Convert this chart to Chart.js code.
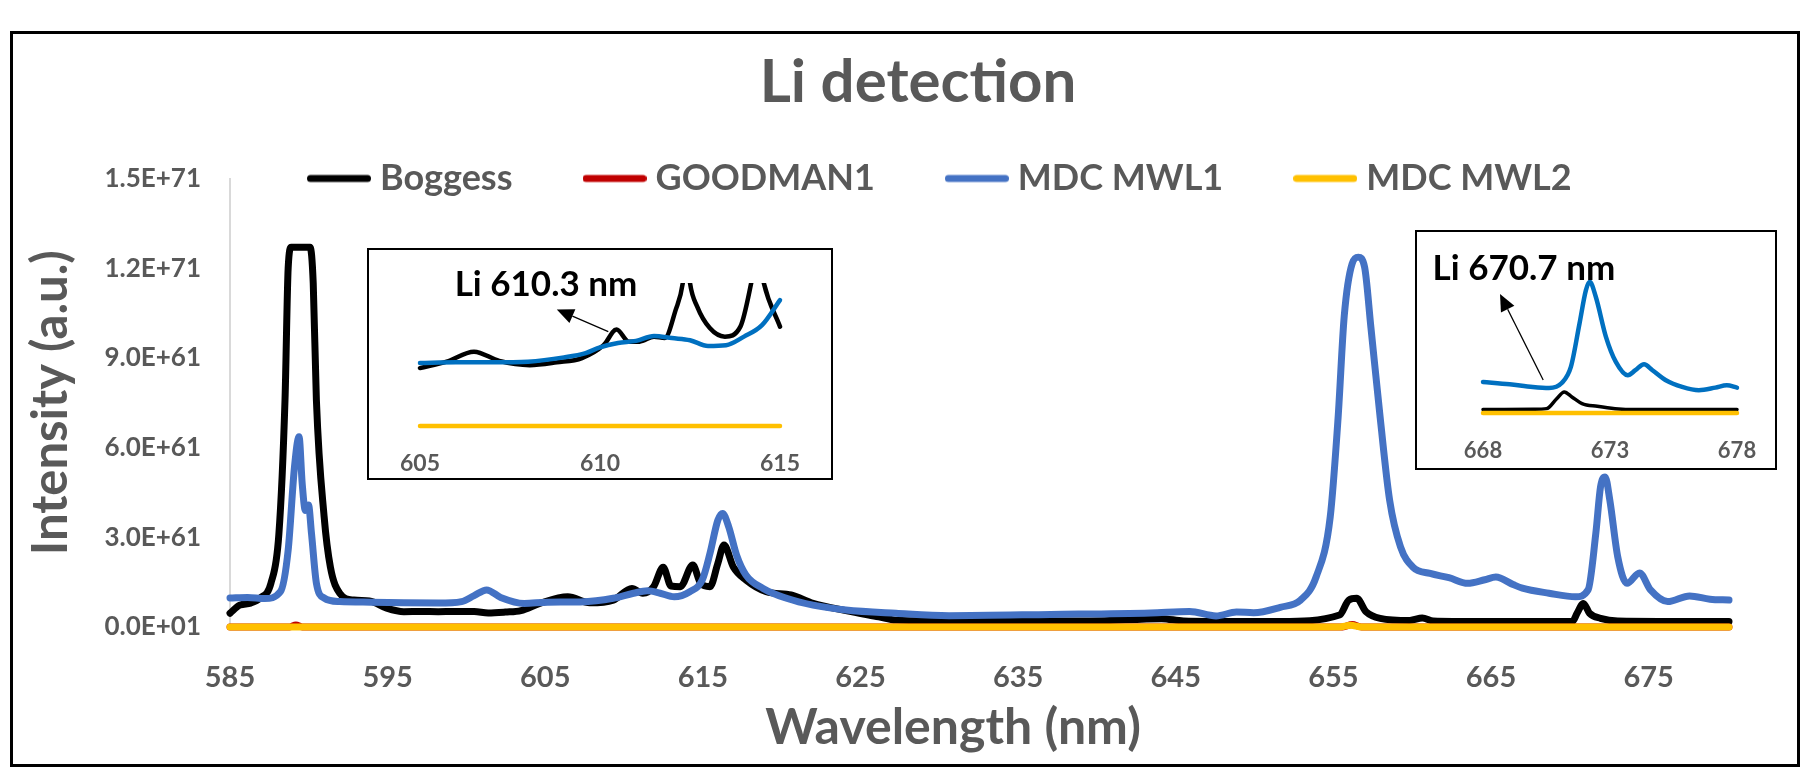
<!DOCTYPE html>
<html>
<head>
<meta charset="utf-8">
<script src="https://cdn.jsdelivr.net/npm/chart.js@4.4.1/dist/chart.umd.min.js"></script>
<style>
html,body{margin:0;padding:0;background:#fff;}
#wrap{position:relative;width:1806px;height:778px;overflow:hidden;}
#main{position:absolute;left:0;top:0;display:block;}
.inset{position:absolute;box-sizing:border-box;border:2px solid #000;background:#fff;}
.inset canvas{display:block;}
</style>
</head>
<body>
<div id="wrap">
  <canvas id="main" width="1806" height="778"></canvas>
  <div class="inset" style="left:367px;top:248px;width:466px;height:232px;"><canvas id="inset1" width="462" height="228"></canvas></div>
  <div class="inset" style="left:1415px;top:230px;width:362px;height:240px;"><canvas id="inset2" width="358" height="236"></canvas></div>
</div>
<script>
// ---------------- DATA ----------------
const seriesNames = ['Boggess', 'GOODMAN1', 'MDC MWL1', 'MDC MWL2'];

const boggessX = [585.0,585.62,586.31,586.91,587.6,588.1,588.49,588.69,588.89,590.08,590.28,590.48,590.97,591.37,591.96,592.85,593.85,594.94,596.03,597.12,598.21,599.2,600.49,601.38,602.47,603.46,604.65,606.43,607.82,609.31,610.5,611.19,611.88,612.48,612.98,613.57,614.36,614.86,615.45,615.95,616.34,616.94,617.73,619.02,620.6,621.99,624.07,626.16,627.25,629.63,634.58,639.54,644.1,645.48,649.45,651.63,655.39,655.98,656.48,657.07,657.97,659.85,660.64,661.34,664.31,670.16,670.46,670.86,671.25,671.95,673.04,680.1];
const boggessY = [0.046,0.073,0.080,0.097,0.147,0.31,0.76,1.20,1.27,1.27,1.15,0.76,0.37,0.20,0.113,0.090,0.087,0.063,0.051,0.052,0.051,0.052,0.052,0.047,0.050,0.055,0.079,0.101,0.081,0.090,0.129,0.113,0.135,0.200,0.137,0.135,0.207,0.146,0.135,0.213,0.274,0.200,0.157,0.118,0.107,0.079,0.055,0.034,0.023,0.021,0.020,0.020,0.028,0.020,0.018,0.018,0.040,0.090,0.096,0.051,0.029,0.022,0.030,0.020,0.018,0.018,0.046,0.079,0.046,0.029,0.020,0.018];

const goodmanX = [585.0,588.79,589.18,589.58,655.59,656.19,656.78,680.1];
const goodmanY = [0,0,0.007,0,0,0.008,0,0];

const mwl1X = [585.0,586.12,587.2,588.2,588.69,589.09,589.38,589.58,589.78,589.98,590.17,590.48,590.97,591.96,593.95,596.03,598.21,599.69,600.49,601.28,602.17,603.66,605.15,607.23,609.31,610.6,611.49,612.29,613.18,614.17,614.96,615.45,615.95,616.25,616.64,617.14,617.73,618.82,620.31,621.99,624.07,627.25,630.62,637.06,643.4,645.88,647.56,648.85,649.94,651.63,652.92,653.91,654.8,655.3,655.69,656.19,656.58,656.98,657.38,657.97,658.57,659.26,660.05,661.14,662.33,663.52,664.61,665.31,666.4,666.99,668.68,670.37,671.16,671.65,671.95,672.24,672.54,673.04,673.63,674.42,675.12,676.21,677.6,678.89,680.1];
const mwl1Y = [0.097,0.099,0.095,0.118,0.257,0.535,0.636,0.48,0.39,0.408,0.313,0.147,0.097,0.085,0.083,0.081,0.080,0.085,0.105,0.124,0.099,0.079,0.083,0.084,0.096,0.113,0.121,0.113,0.101,0.118,0.157,0.246,0.357,0.380,0.335,0.240,0.174,0.129,0.096,0.073,0.057,0.046,0.038,0.042,0.047,0.052,0.037,0.050,0.048,0.066,0.090,0.168,0.368,0.70,1.04,1.215,1.237,1.204,1.003,0.70,0.424,0.268,0.200,0.179,0.165,0.146,0.158,0.167,0.142,0.130,0.113,0.101,0.124,0.313,0.469,0.502,0.424,0.235,0.146,0.181,0.124,0.085,0.104,0.093,0.090];

const mwl2X = [585.0,655.39,656.09,656.78,680.1];
const mwl2Y = [0,0,0.006,0,0];

const xTickValues = [585,595,605,615,625,635,645,655,665,675];
const yTickValues = [0,0.3,0.6,0.9,1.2,1.5];
const yTickLabels = ['0.0E+01','3.0E+61','6.0E+61','9.0E+61','1.2E+71','1.5E+71'];

// inset 1 (605-615 nm)
const inset1BlackX = [605,605.74,606.5,607.2,608.05,608.8,609.5,610.1,610.46,610.8,611.1,611.5,611.8,612.1,612.3,612.4,612.5,612.7,613.05,613.47,613.9,614.2,614.38,614.55,615];
const inset1BlackY = [0.081,0.090,0.104,0.091,0.085,0.089,0.095,0.113,0.135,0.118,0.118,0.125,0.123,0.162,0.2,0.25,0.2,0.167,0.137,0.125,0.139,0.2,0.25,0.2,0.139];
const inset1BlueX = [605,606,607,608,609,609.6,610,610.5,611,611.5,612,612.5,613,613.5,614,614.5,615];
const inset1BlueY = [0.088,0.089,0.089,0.090,0.096,0.102,0.110,0.116,0.119,0.126,0.123,0.120,0.112,0.113,0.125,0.141,0.176];
const inset1YellowX = [605,615];
const inset1YellowY = [0,0];
const inset1Ticks = [605,610,615];

// inset 2 (668-678 nm)
const inset2BlueX = [668,669.05,669.96,670.6,671.1,671.46,671.8,672.05,672.2,672.44,672.84,673.23,673.7,674.0,674.34,674.67,675.2,675.84,676.5,677.15,677.6,678];
const inset2BlueY = [0.228,0.211,0.191,0.184,0.22,0.338,0.657,0.9,0.963,0.853,0.559,0.375,0.277,0.314,0.358,0.314,0.24,0.191,0.167,0.186,0.203,0.186];
const inset2BlackX = [668,670,670.5,670.9,671.2,671.5,671.9,672.5,673.2,674,678];
const inset2BlackY = [0.025,0.028,0.032,0.105,0.154,0.118,0.069,0.049,0.032,0.025,0.025];
const inset2YellowX = [668,678];
const inset2YellowY = [0,0];
const inset2Ticks = [668,673,678];

// ---------------- STYLE ----------------
const C_BLACK = '#000000', C_RED = '#C00000', C_BLUE = '#4472C4', C_YELLOW = '#FFC000', C_INSET_BLUE = '#0070C0';
const seriesColors = [C_BLACK, C_RED, C_BLUE, C_YELLOW];
const GRAY = '#595959';
const FONT = 'Lato';

const pts = (xs, ys) => xs.map((x, i) => ({x: x, y: ys[i]}));

function lineDs(label, xs, ys, color, width, order) {
  return {
    label: label, data: pts(xs, ys), borderColor: color, backgroundColor: color,
    borderWidth: width, pointRadius: 0, pointHoverRadius: 0, fill: false,
    cubicInterpolationMode: 'monotone', borderCapStyle: 'round', borderJoinStyle: 'round',
    clip: 10, order: order
  };
}

// legend symbol: a short thick rounded line
function legendLine(color) {
  const c = document.createElement('canvas');
  c.width = 64; c.height = 10;
  const g = c.getContext('2d');
  g.strokeStyle = color; g.lineWidth = 7; g.lineCap = 'round';
  g.beginPath(); g.moveTo(3.5, 5); g.lineTo(60.5, 5); g.stroke();
  return c;
}
const legendSymbols = seriesColors.map(legendLine);

// fine placement of legend, chart title and x-axis title (layout tweaks only)
const LEGEND_FIRST_X = 316;
const placement = {
  id: 'placement',
  afterLayout(chart) {
    const lg = chart.legend;
    if (lg) {
      const o = lg.options.labels;
      const size = o.font && o.font.size ? o.font.size : 12;
      const itemH = size;
      const newTop = chart.chartArea.top - o.padding - itemH / 2;
      lg.top = newTop;
      lg.bottom = newTop + o.padding + itemH + 10;
      lg.height = lg.bottom - lg.top;
      const w = lg.right - lg.left;
      const W = (lg.lineWidths && lg.lineWidths[0]) || 0;
      const L = LEGEND_FIRST_X - (o.padding + w - W) / 2;
      lg.left = L; lg.right = L + w;
    }
    const tb = chart.titleBlock;
    if (tb) {
      const dx = 918 - (tb.left + tb.right) / 2;
      tb.left += dx; tb.right += dx;
    }
    const sx = chart.scales.x;
    if (sx && !sx._titleShifted) {
      const orig = sx.drawTitle.bind(sx);
      sx.drawTitle = function () {
        const r = this.right;
        this.right = 2 * 953 - this.left;
        orig();
        this.right = r;
      };
      sx._titleShifted = true;
    }
  }
};

const framePlugin = {
  id: 'frame',
  afterDraw(chart) {
    const c = chart.ctx;
    c.save();
    c.strokeStyle = '#000';
    c.lineWidth = 3;
    c.strokeRect(11.5, 32.5, 1787, 733);
    c.restore();
  }
};

new Chart(document.getElementById('main'), {
  type: 'line',
  data: {
    datasets: [
      lineDs(seriesNames[0], boggessX, boggessY, seriesColors[0], 7, 4),
      lineDs(seriesNames[1], goodmanX, goodmanY, seriesColors[1], 7, 3),
      lineDs(seriesNames[2], mwl1X, mwl1Y, seriesColors[2], 7, 2),
      lineDs(seriesNames[3], mwl2X, mwl2Y, seriesColors[3], 7, 1)
    ]
  },
  plugins: [placement, framePlugin],
  options: {
    responsive: false, animation: false, devicePixelRatio: 1,
    events: [],
    layout: {padding: {left: 14, right: 77, top: 32, bottom: 20}},
    plugins: {
      title: {
        display: true, text: 'Li detection', color: GRAY,
        font: {family: FONT, size: 60, weight: 'bold', lineHeight: 1.2},
        padding: {top: 15, bottom: 39.5}
      },
      legend: {
        display: true, position: 'top', maxHeight: 20,
        labels: {
          usePointStyle: true, pointStyleWidth: 46, boxHeight: 7, padding: 79, color: GRAY,
          font: {family: FONT, size: 36, weight: 'bold'},
          sort: (a, b) => a.datasetIndex - b.datasetIndex,
          generateLabels: (chart) => Chart.defaults.plugins.legend.labels.generateLabels(chart)
            .map(it => Object.assign(it, {pointStyle: legendSymbols[it.datasetIndex], lineWidth: 0}))
        }
      },
      tooltip: {enabled: false}
    },
    scales: {
      x: {
        type: 'linear', min: 585, max: 680.1,
        afterBuildTicks: s => { s.ticks = xTickValues.map(v => ({value: v})); },
        afterFit: s => { s.height = 131; },
        grid: {display: false, drawTicks: false},
        border: {display: false},
        ticks: {padding: 33, color: GRAY, font: {family: FONT, size: 29, weight: 'bold'}, maxRotation: 0, autoSkip: false},
        title: {
          display: true, text: 'Wavelength (nm)', color: GRAY,
          font: {family: FONT, size: 50, weight: 'bold', lineHeight: 1.2},
          padding: {top: 0, bottom: 0}
        }
      },
      y: {
        type: 'linear', min: 0, max: 1.5,
        afterBuildTicks: s => { s.ticks = yTickValues.map(v => ({value: v})); },
        afterFit: s => { s.width = 216; },
        grid: {display: false, drawTicks: false},
        border: {display: true, color: '#D9D9D9', width: 2},
        ticks: {
          padding: 29, color: GRAY, font: {family: FONT, size: 26, weight: 'bold'},
          callback: (v) => { const i = yTickValues.findIndex(t => Math.abs(t - v) < 1e-9); return i >= 0 ? yTickLabels[i] : ''; }
        },
        title: {
          display: true, text: 'Intensity (a.u.)', color: GRAY,
          font: {family: FONT, size: 49, weight: 'bold', lineHeight: 1.2},
          padding: {top: 8, bottom: 0}
        }
      }
    }
  }
});

// ---------------- INSETS ----------------
const calloutPlugin = {
  id: 'callout',
  afterDatasetsDraw(chart, args, o) {
    if (!o || !o.text) return;
    const ctx = chart.ctx, sx = chart.scales.x, sy = chart.scales.y;
    ctx.save();
    ctx.fillStyle = '#000';
    ctx.font = 'bold ' + o.fontSize + 'px ' + FONT;
    ctx.textAlign = 'center';
    ctx.textBaseline = 'middle';
    ctx.fillText(o.text, sx.getPixelForValue(o.textX), sy.getPixelForValue(o.textY));
    const x1 = sx.getPixelForValue(o.fromX), y1 = sy.getPixelForValue(o.fromY);
    const x2 = sx.getPixelForValue(o.toX), y2 = sy.getPixelForValue(o.toY);
    const ang = Math.atan2(y2 - y1, x2 - x1);
    const hl = 17, hw = 7.5;
    const bx = x2 - hl * Math.cos(ang), by = y2 - hl * Math.sin(ang);
    ctx.strokeStyle = '#000';
    ctx.lineWidth = 1.3;
    ctx.beginPath(); ctx.moveTo(x1, y1); ctx.lineTo(bx, by); ctx.stroke();
    ctx.beginPath();
    ctx.moveTo(x2, y2);
    ctx.lineTo(bx + hw * Math.sin(ang), by - hw * Math.cos(ang));
    ctx.lineTo(bx - hw * Math.sin(ang), by + hw * Math.cos(ang));
    ctx.closePath(); ctx.fill();
    ctx.restore();
  }
};

function makeInset(id, datasets, xmin, xmax, xticks, ymax, pad, xh, tickPad, fontSize, callout) {
  return new Chart(document.getElementById(id), {
    type: 'line',
    data: {datasets: datasets},
    plugins: [calloutPlugin],
    options: {
      responsive: false, animation: false, devicePixelRatio: 1, events: [],
      layout: {padding: pad},
      plugins: {legend: {display: false}, title: {display: false}, tooltip: {enabled: false}, callout: callout},
      scales: {
        x: {
          type: 'linear', min: xmin, max: xmax,
          afterBuildTicks: s => { s.ticks = xticks.map(v => ({value: v})); },
          afterFit: s => { s.height = xh; s.paddingLeft = 0; s.paddingRight = 0; },
          grid: {display: false, drawTicks: false}, border: {display: false},
          ticks: {padding: tickPad, color: GRAY, font: {family: FONT, size: fontSize, weight: 'bold'}, maxRotation: 0, autoSkip: false}
        },
        y: {type: 'linear', min: 0, max: ymax, display: false}
      }
    }
  });
}

makeInset('inset1', [
    lineDs('Boggess', inset1BlackX, inset1BlackY, C_BLACK, 4.5, 3),
    lineDs('MDC MWL1', inset1BlueX, inset1BlueY, C_INSET_BLUE, 4.5, 2),
    lineDs('MDC MWL2', inset1YellowX, inset1YellowY, C_YELLOW, 4.5, 1)
  ].map(d => Object.assign(d, {clip: {left: 6, right: 6, top: 0, bottom: 6}})),
  605, 615, inset1Ticks, 0.2,
  {left: 51, right: 51, top: 33, bottom: 0}, 52, 24, 23,
  {text: 'Li 610.3 nm', fontSize: 35, textX: 608.5, textY: 0.197, fromX: 610.23, fromY: 0.132, toX: 608.8, toY: 0.163});

makeInset('inset2', [
    lineDs('Boggess', inset2BlackX, inset2BlackY, C_BLACK, 3.5, 3),
    lineDs('MDC MWL1', inset2BlueX, inset2BlueY, C_INSET_BLUE, 4.5, 2),
    lineDs('MDC MWL2', inset2YellowX, inset2YellowY, C_YELLOW, 4.5, 1)
  ],
  668, 678, inset2Ticks, 1.0,
  {left: 66, right: 38, top: 44.7, bottom: 0}, 55, 25, 22,
  {text: 'Li 670.7 nm', fontSize: 35, textX: 669.61, textY: 1.062, fromX: 670.37, fromY: 0.242, toX: 668.67, toY: 0.873});
</script>
</body>
</html>
